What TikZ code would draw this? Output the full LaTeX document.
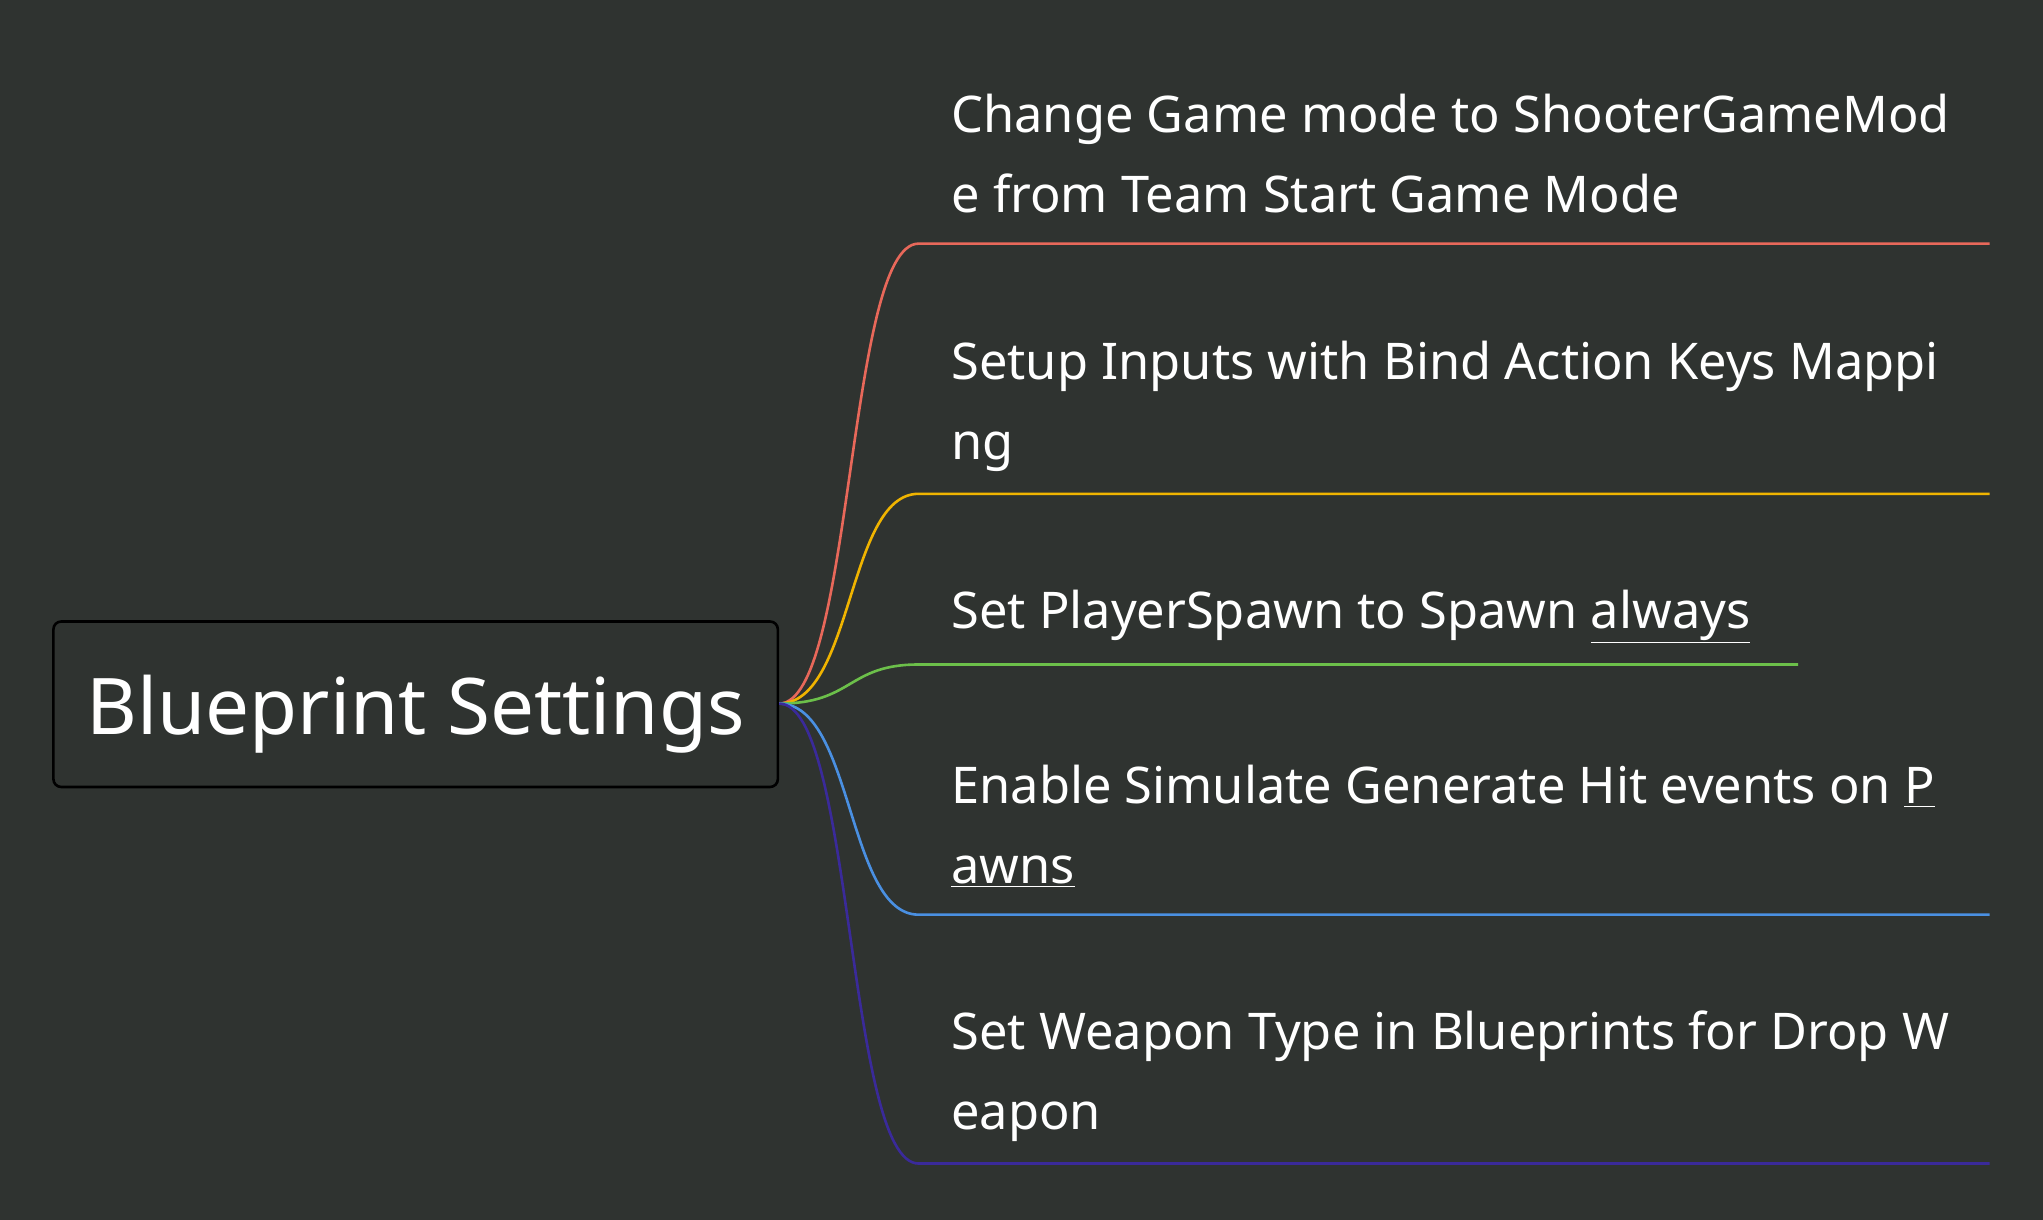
\documentclass[tikz,border=0pt]{standalone}
\usepackage{fontspec}
\setmainfont{Noto Sans}
\definecolor{bg}{HTML}{2F3330}
\definecolor{cA}{HTML}{E8685A}
\definecolor{cB}{HTML}{F0B400}
\definecolor{cC}{HTML}{6CC04A}
\definecolor{cD}{HTML}{4A90E2}
\definecolor{cE}{HTML}{3A2A9A}
\begin{document}
\begin{tikzpicture}[x=1pt,y=-1pt,
  leaf/.style={anchor=west,text=white,font=\fontsize{38.8}{61}\selectfont,align=left,inner sep=0},
  br/.style={line width=2pt}]
\fill[bg] (0,0) rectangle (1568,936);
\useasboundingbox (0,0) rectangle (1568,936);
\node[draw=black,line width=2pt,rounded corners=6pt,fill=bg,minimum width=556pt,minimum height=127pt] (root) at (319,540.5) {};
\node[text=white,font=\fontsize{60}{70}\selectfont] (rt) at (319,548) {Blueprint Settings};
\coordinate (s) at (598,540);
\node[leaf] (t1) at (730,118) {Change Game mode to ShooterGameMod\\e from Team Start Game Mode};
\node[leaf] (t2) at (730,312) {Setup Inputs with Bind Action Keys Mappi\\ng};
\node[leaf] (t3) at (730,473) {Set PlayerSpawn to Spawn \underline{always}};
\node[leaf] (t4) at (730,634) {Enable Simulate Generate Hit events on \underline{P}\\\underline{awns}};
\node[leaf] (t5) at (730,826) {Set Weapon Type in Blueprints for Drop W\\eapon};
\coordinate (a1) at (705,187); \coordinate (b1) at (1527,187);
\coordinate (a2) at (705,379); \coordinate (b2) at (1527,379);
\coordinate (a3) at (705,510); \coordinate (b3) at (1380,510);
\coordinate (a4) at (705,702); \coordinate (b4) at (1527,702);
\coordinate (a5) at (705,893); \coordinate (b5) at (1527,893);
\draw[br,cA] (s) .. controls (655,540) and (650,187) .. (a1) -- (b1);
\draw[br,cB] (s) .. controls (655,540) and (650,379) .. (a2) -- (b2);
\draw[br,cC] (s) .. controls (655,540) and (650,510) .. (a3) -- (b3);
\draw[br,cD] (s) .. controls (655,540) and (650,702) .. (a4) -- (b4);
\draw[br,cE] (s) .. controls (655,540) and (650,893) .. (a5) -- (b5);
\end{tikzpicture}
\end{document}
